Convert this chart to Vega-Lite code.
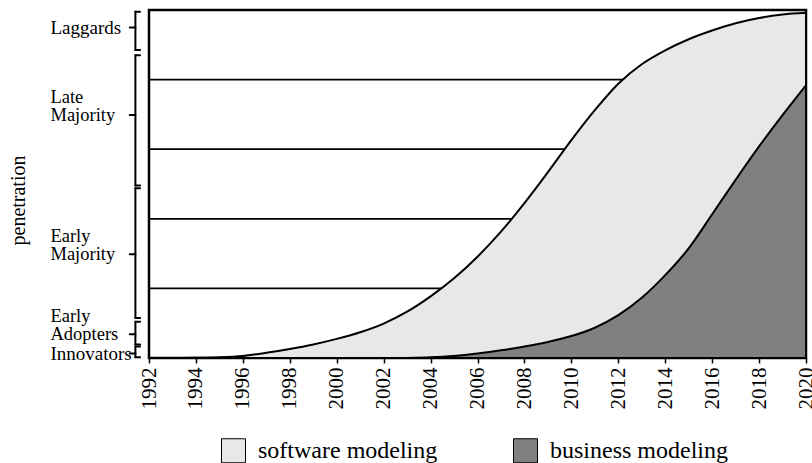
{
  "$schema": "https://vega.github.io/schema/vega-lite/v6.json",
  "width": 657,
  "height": 348,
  "autosize": {"type": "none"},
  "padding": {"left": 149, "top": 10, "right": 6, "bottom": 105},
  "background": "white",
  "config": {
    "font": "Liberation Serif",
    "view": {"stroke": "black", "strokeWidth": 2.5},
    "axis": {"labelFont": "Liberation Serif", "titleFont": "Liberation Serif", "labelColor": "black", "titleColor": "black", "titleFontWeight": "normal"}
  },
  "datasets": {
    "curves": [
      {"year": 1992, "series": "software modeling", "value": 0},
      {"year": 1993, "series": "software modeling", "value": 0},
      {"year": 1994, "series": "software modeling", "value": 0.05},
      {"year": 1995, "series": "software modeling", "value": 0.2},
      {"year": 1996, "series": "software modeling", "value": 0.6},
      {"year": 1997, "series": "software modeling", "value": 1.5},
      {"year": 1998, "series": "software modeling", "value": 2.6},
      {"year": 1999, "series": "software modeling", "value": 3.9},
      {"year": 2000, "series": "software modeling", "value": 5.5},
      {"year": 2001, "series": "software modeling", "value": 7.4},
      {"year": 2002, "series": "software modeling", "value": 9.9},
      {"year": 2003, "series": "software modeling", "value": 13.3},
      {"year": 2004, "series": "software modeling", "value": 17.7},
      {"year": 2005, "series": "software modeling", "value": 22.9},
      {"year": 2006, "series": "software modeling", "value": 29.1},
      {"year": 2007, "series": "software modeling", "value": 36.3},
      {"year": 2008, "series": "software modeling", "value": 44.5},
      {"year": 2009, "series": "software modeling", "value": 53.4},
      {"year": 2010, "series": "software modeling", "value": 62.6},
      {"year": 2011, "series": "software modeling", "value": 71.2},
      {"year": 2012, "series": "software modeling", "value": 78.8},
      {"year": 2013, "series": "software modeling", "value": 84.4},
      {"year": 2014, "series": "software modeling", "value": 88.4},
      {"year": 2015, "series": "software modeling", "value": 91.6},
      {"year": 2016, "series": "software modeling", "value": 94.1},
      {"year": 2017, "series": "software modeling", "value": 96.2},
      {"year": 2018, "series": "software modeling", "value": 97.7},
      {"year": 2019, "series": "software modeling", "value": 98.7},
      {"year": 2020, "series": "software modeling", "value": 99.2},
      {"year": 2003, "series": "business modeling", "value": 0},
      {"year": 2004, "series": "business modeling", "value": 0.2},
      {"year": 2005, "series": "business modeling", "value": 0.6},
      {"year": 2006, "series": "business modeling", "value": 1.3},
      {"year": 2007, "series": "business modeling", "value": 2.2},
      {"year": 2008, "series": "business modeling", "value": 3.3},
      {"year": 2009, "series": "business modeling", "value": 4.6},
      {"year": 2010, "series": "business modeling", "value": 6.3},
      {"year": 2011, "series": "business modeling", "value": 8.7},
      {"year": 2012, "series": "business modeling", "value": 12.3},
      {"year": 2013, "series": "business modeling", "value": 17.3},
      {"year": 2014, "series": "business modeling", "value": 23.8},
      {"year": 2015, "series": "business modeling", "value": 31.5},
      {"year": 2016, "series": "business modeling", "value": 41.3},
      {"year": 2017, "series": "business modeling", "value": 51.2},
      {"year": 2018, "series": "business modeling", "value": 60.8},
      {"year": 2019, "series": "business modeling", "value": 69.8},
      {"year": 2020, "series": "business modeling", "value": 78.4}
    ],
    "levels": [
      {"level": 20, "from": 1992, "meets": 2004.6},
      {"level": 40, "from": 1992, "meets": 2007.6},
      {"level": 60, "from": 1992, "meets": 2009.9},
      {"level": 80, "from": 1992, "meets": 2012.4}
    ],
    "groups": [
      {"label": "Laggards", "lines": 1, "lo": 88.5, "hi": 99.5, "mid": 95.0},
      {"label": "Late\nMajority", "lines": 2, "lo": 49.6, "hi": 87.0, "mid": 69.8},
      {"label": "Early\nMajority", "lines": 2, "lo": 11.5, "hi": 48.8, "mid": 29.8},
      {"label": "Early\nAdopters", "lines": 2, "lo": 3.9, "hi": 10.4, "mid": 6.8},
      {"label": "Innovators", "lines": 1, "lo": 0.2, "hi": 3.3, "mid": 1.3}
    ]
  },
  "layer": [
    {
      "data": {"name": "levels"},
      "mark": {"type": "rule", "color": "black", "strokeWidth": 1.8},
      "encoding": {
        "x": {"field": "from", "type": "quantitative", "scale": {"domain": [1992, 2020], "nice": false, "zero": false},
          "axis": {"values": [1992,1993,1994,1995,1996,1997,1998,1999,2000,2001,2002,2003,2004,2005,2006,2007,2008,2009,2010,2011,2012,2013,2014,2015,2016,2017,2018,2019,2020],
            "format": "d", "labelExpr": "datum.value % 2 == 0 ? datum.label : ''", "labelAngle": -90, "labelFontSize": 21,
            "labelPadding": 4, "tickSize": 5, "tickColor": "black", "tickWidth": 1.5, "domain": false, "grid": false,
            "labelOverlap": false, "labelFlush": false, "labelBound": false, "title": null}},
        "x2": {"field": "meets"},
        "y": {"field": "level", "type": "quantitative", "scale": {"domain": [0, 100], "nice": false},
          "axis": {"domain": false, "ticks": false, "labels": false, "grid": false, "title": "penetration",
            "titleFontSize": 20, "titleX": -131, "titleY": 190, "titleAngle": -90, "titleAlign": "center", "titleBaseline": "middle"}}
      }
    },
    {
      "data": {"name": "curves"},
      "transform": [{"filter": "datum.series == 'software modeling'"}],
      "mark": {"type": "area", "interpolate": "monotone", "stroke": "black", "strokeWidth": 2, "opacity": 1},
      "encoding": {
        "x": {"field": "year", "type": "quantitative", "scale": {"domain": [1992, 2020], "nice": false, "zero": false},
          "axis": {"values": [1992,1993,1994,1995,1996,1997,1998,1999,2000,2001,2002,2003,2004,2005,2006,2007,2008,2009,2010,2011,2012,2013,2014,2015,2016,2017,2018,2019,2020],
            "format": "d", "labelExpr": "datum.value % 2 == 0 ? datum.label : ''", "labelAngle": -90, "labelFontSize": 21,
            "labelPadding": 4, "tickSize": 5, "tickColor": "black", "tickWidth": 1.5, "domain": false, "grid": false,
            "labelOverlap": false, "labelFlush": false, "labelBound": false, "title": null}},
        "y": {"field": "value", "type": "quantitative", "stack": null, "scale": {"domain": [0, 100], "nice": false},
          "axis": {"domain": false, "ticks": false, "labels": false, "grid": false, "title": "penetration",
            "titleFontSize": 20, "titleX": -131, "titleY": 190, "titleAngle": -90, "titleAlign": "center", "titleBaseline": "middle"}},
        "color": {"field": "series", "type": "nominal",
          "scale": {"domain": ["software modeling", "business modeling"], "range": ["#e8e8e8", "#808080"]},
          "legend": {"orient": "none", "legendX": 72, "legendY": 428, "direction": "horizontal", "title": null,
            "symbolType": "square", "symbolSize": 576, "symbolStrokeColor": "black", "symbolStrokeWidth": 1, "symbolOpacity": 1,
            "labelFontSize": 24, "labelFont": "Liberation Serif", "labelColor": "black", "labelOffset": 12, "labelLimit": 400, "columnPadding": 73, "padding": 0}}
      }
    },
    {
      "data": {"name": "curves"},
      "transform": [{"filter": "datum.series == 'business modeling'"}],
      "mark": {"type": "area", "interpolate": "monotone", "stroke": "black", "strokeWidth": 2, "opacity": 1},
      "encoding": {
        "x": {"field": "year", "type": "quantitative", "scale": {"domain": [1992, 2020], "nice": false, "zero": false},
          "axis": {"values": [1992,1993,1994,1995,1996,1997,1998,1999,2000,2001,2002,2003,2004,2005,2006,2007,2008,2009,2010,2011,2012,2013,2014,2015,2016,2017,2018,2019,2020],
            "format": "d", "labelExpr": "datum.value % 2 == 0 ? datum.label : ''", "labelAngle": -90, "labelFontSize": 21,
            "labelPadding": 4, "tickSize": 5, "tickColor": "black", "tickWidth": 1.5, "domain": false, "grid": false,
            "labelOverlap": false, "labelFlush": false, "labelBound": false, "title": null}},
        "y": {"field": "value", "type": "quantitative", "stack": null, "scale": {"domain": [0, 100], "nice": false},
          "axis": {"domain": false, "ticks": false, "labels": false, "grid": false, "title": "penetration",
            "titleFontSize": 20, "titleX": -131, "titleY": 190, "titleAngle": -90, "titleAlign": "center", "titleBaseline": "middle"}},
        "color": {"field": "series", "type": "nominal"}
      }
    },
    {
      "data": {"name": "groups"},
      "mark": {"type": "rule", "color": "black", "strokeWidth": 2, "strokeCap": "round"},
      "encoding": {
        "x": {"datum": 1991.42, "type": "quantitative"},
        "y": {"field": "lo", "type": "quantitative"},
        "y2": {"field": "hi"}
      }
    },
    {
      "data": {"name": "groups"},
      "mark": {"type": "rule", "color": "black", "strokeWidth": 2, "strokeCap": "round"},
      "encoding": {
        "x": {"datum": 1991.42, "type": "quantitative"},
        "x2": {"datum": 1991.62},
        "y": {"field": "lo", "type": "quantitative"}
      }
    },
    {
      "data": {"name": "groups"},
      "mark": {"type": "rule", "color": "black", "strokeWidth": 2, "strokeCap": "round"},
      "encoding": {
        "x": {"datum": 1991.42, "type": "quantitative"},
        "x2": {"datum": 1991.62},
        "y": {"field": "hi", "type": "quantitative"}
      }
    },
    {
      "data": {"name": "groups"},
      "mark": {"type": "rule", "color": "black", "strokeWidth": 2, "strokeCap": "round"},
      "encoding": {
        "x": {"datum": 1991.18, "type": "quantitative"},
        "x2": {"datum": 1991.42},
        "y": {"field": "mid", "type": "quantitative"}
      }
    },
    {
      "data": {"name": "groups"},
      "transform": [{"filter": "datum.lines == 1"}],
      "mark": {"type": "text", "align": "left", "baseline": "bottom", "dy": 11, "fontSize": 19, "font": "Liberation Serif", "color": "black"},
      "encoding": {
        "x": {"datum": 1987.8, "type": "quantitative"},
        "y": {"field": "mid", "type": "quantitative"},
        "text": {"field": "label"}
      }
    },
    {
      "data": {"name": "groups"},
      "transform": [{"filter": "datum.lines == 2"}],
      "mark": {"type": "text", "align": "left", "baseline": "bottom", "dy": -8, "lineBreak": "\n", "fontSize": 18.5, "lineHeight": 18, "font": "Liberation Serif", "color": "black"},
      "encoding": {
        "x": {"datum": 1987.8, "type": "quantitative"},
        "y": {"field": "mid", "type": "quantitative"},
        "text": {"field": "label"}
      }
    }
  ]
}
